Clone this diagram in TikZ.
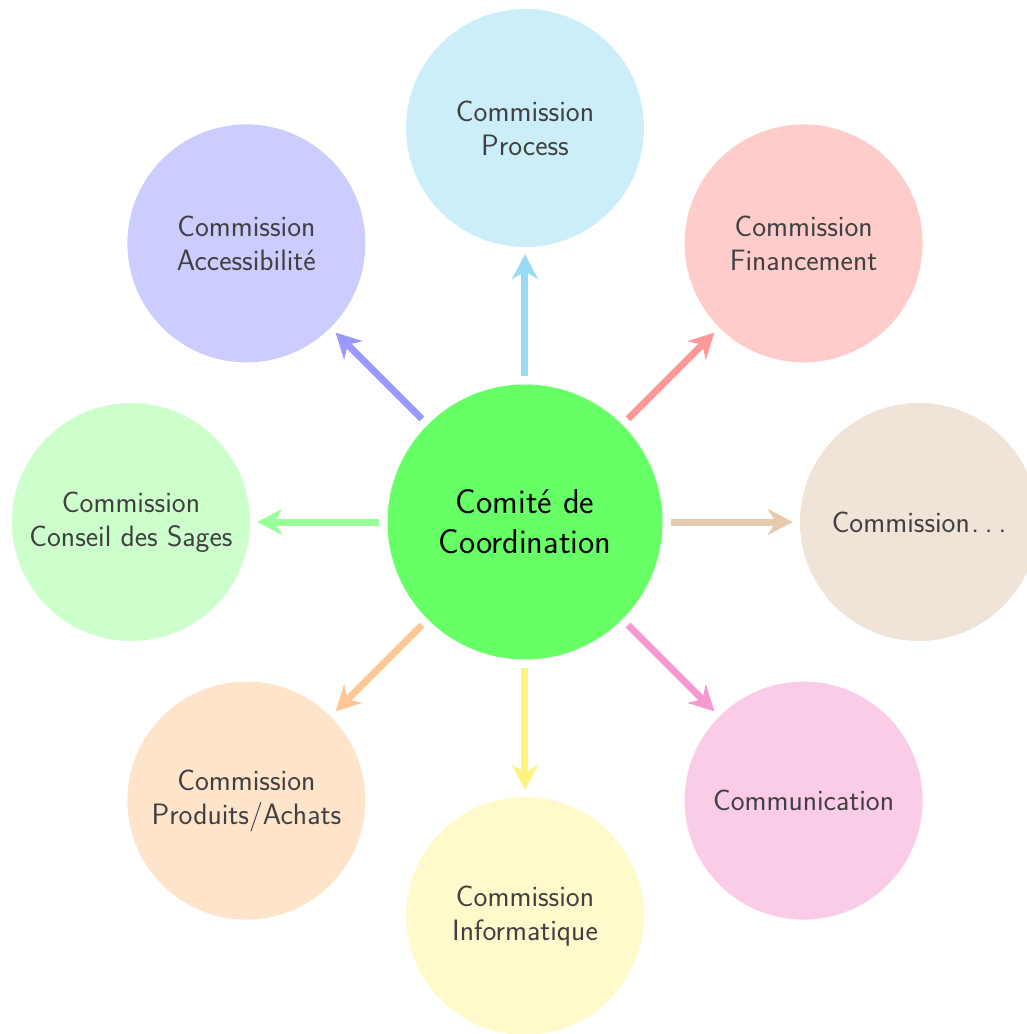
\documentclass[tikz,border=0pt]{standalone}
\usetikzlibrary{arrows.meta}
\definecolor{cgreen}{HTML}{66FF66}
\definecolor{fProc}{HTML}{CCEEF9}\definecolor{aProc}{HTML}{99DBF4}
\definecolor{fFin}{HTML}{FFCCCC}\definecolor{aFin}{HTML}{FF9999}
\definecolor{fAcc}{HTML}{CCCCFF}\definecolor{aAcc}{HTML}{9999FF}
\definecolor{fSag}{HTML}{CCFFCC}\definecolor{aSag}{HTML}{99FF99}
\definecolor{fPro}{HTML}{FFE4CC}\definecolor{aPro}{HTML}{FFC794}
\definecolor{fInf}{HTML}{FFFACC}\definecolor{aInf}{HTML}{FFF27F}
\definecolor{fCom}{HTML}{FBCCE8}\definecolor{aCom}{HTML}{F799D1}
\definecolor{fEtc}{HTML}{F0E3D7}\definecolor{aEtc}{HTML}{E6CAAE}
\definecolor{txt}{HTML}{404040}
\tikzset{
  sat/.style={circle, minimum size=238pt, inner sep=0pt, align=center,
    text=txt, font=\sffamily\fontsize{29.5}{34}\selectfont},
  hub/.style={circle, fill=cgreen, minimum size=275pt, inner sep=0pt, align=center,
    font=\sffamily\fontsize{34.5}{40}\selectfont},
  arr/.style={line width=7pt, -{Stealth[length=25pt,width=26pt,inset=8pt]},
    shorten <=8pt, shorten >=7pt}
}
\begin{document}
\begin{tikzpicture}[x=1pt,y=1pt]
\useasboundingbox (-525,-512) rectangle (501,522);
\node[hub] (c) at (0,0) {Comité de\\Coordination};
\node[sat, fill=fProc] (proc) at (90:394) {Commission\\Process};
\node[sat, fill=fFin] (fin) at (45:394) {Commission\\Financement};
\node[sat, fill=fEtc] (etc) at (0:394) {Commission\hspace{0.05em}.\hspace{0.2em}.\hspace{0.2em}.};
\node[sat, fill=fCom] (com) at (-45:394) {Communication};
\node[sat, fill=fInf] (inf) at (-90:394) {Commission\\Informatique};
\node[sat, fill=fPro] (pro) at (-135:394) {Commission\\Produits/Achats};
\node[sat, fill=fSag] (sag) at (180:394) {Commission\\Conseil des Sages};
\node[sat, fill=fAcc] (acc) at (135:394) {Commission\\Accessibilité};
\draw[arr, aProc] (c) -- (proc);
\draw[arr, aFin] (c) -- (fin);
\draw[arr, aEtc] (c) -- (etc);
\draw[arr, aCom] (c) -- (com);
\draw[arr, aInf] (c) -- (inf);
\draw[arr, aPro] (c) -- (pro);
\draw[arr, aSag] (c) -- (sag);
\draw[arr, aAcc] (c) -- (acc);
\end{tikzpicture}
\end{document}
